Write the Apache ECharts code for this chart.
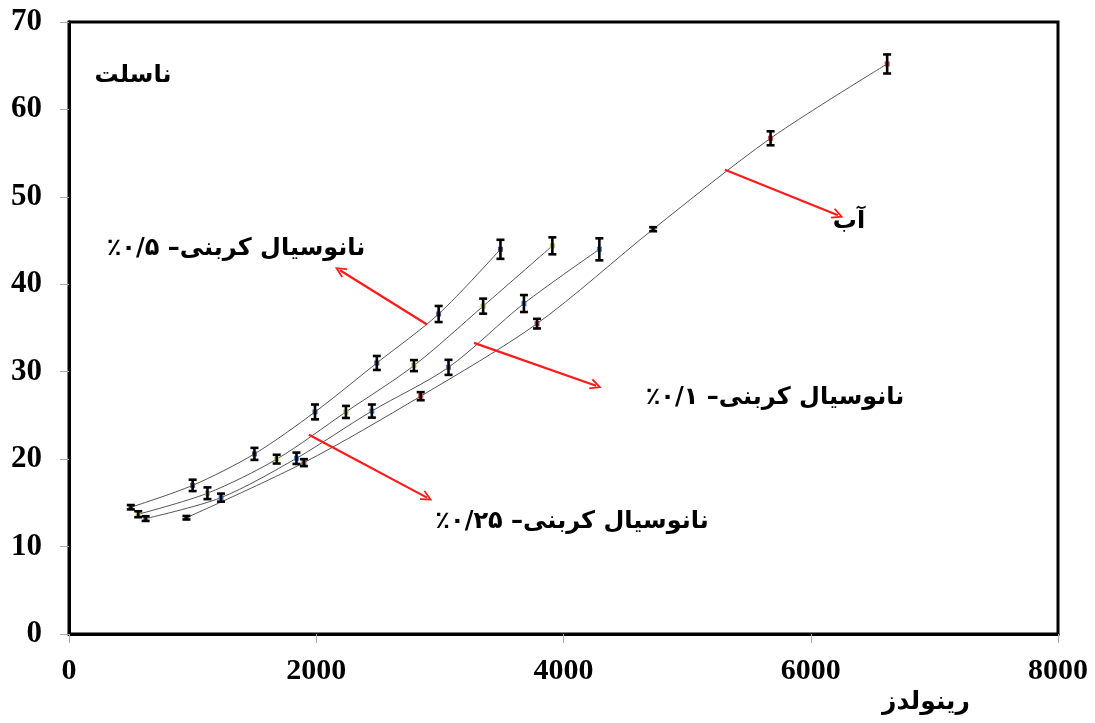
<!DOCTYPE html>
<html>
<head>
<meta charset="utf-8">
<script src="https://cdn.jsdelivr.net/npm/echarts@6/dist/echarts.min.js"></script>
<style>
html,body{margin:0;padding:0;background:#fff;}
#chart{width:1095px;height:723px;}
</style>
</head>
<body>
<div id="chart"></div>
<script>
// ---- data ----
const xTicks = [0, 2000, 4000, 6000, 8000];
const yTicks = [0, 10, 20, 30, 40, 50, 60, 70];

const re05  = [500, 1000, 1500, 1990, 2490, 2990, 3490];
const nu05  = [14.5, 17.0, 20.6, 25.4, 31.0, 36.6, 44.0];
const er05  = [0.25, 0.65, 0.69, 0.85, 0.8, 0.92, 1.09];

const re025 = [560, 1120, 1680, 2240, 2790, 3350, 3910];
const nu025 = [13.7, 16.1, 20.0, 25.4, 30.7, 37.5, 44.4];
const er025 = [0.34, 0.67, 0.5, 0.69, 0.63, 0.86, 0.97];

const re01  = [620, 1230, 1840, 2450, 3070, 3680, 4290];
const nu01  = [13.2, 15.6, 20.1, 25.5, 30.5, 37.8, 44.0];
const er01  = [0.27, 0.46, 0.65, 0.75, 0.86, 0.97, 1.26];

const reW   = [950, 1900, 2845, 3786, 4725, 5675, 6618];
const nuW   = [13.3, 19.6, 27.2, 35.5, 46.3, 56.7, 65.2];
const erW   = [0.2, 0.4, 0.46, 0.55, 0.23, 0.8, 1.09];

const seriesNames = ['نانوسیال کربنی– ۰/۵٪', 'نانوسیال کربنی– ۰/۲۵٪', 'نانوسیال کربنی– ۰/۱٪', 'آب'];
const yTitle = 'ناسلت';
const xTitle = 'رینولدز';

// annotation anchors (data coordinates)
const labelAnchors = [
  {text: yTitle, at: [518, 63.8]},
  {text: seriesNames[0], at: [1351, 44.1]},
  {text: seriesNames[2], at: [5711, 27.0]},
  {text: seriesNames[1], at: [4069, 12.8]},
  {text: seriesNames[3], at: [6309, 47.1]}
];
const arrows = [
  [[2896, 35.4], [2192, 41.6]],
  [[3276, 33.3], [4263, 28.4]],
  [[1941, 22.8], [2896, 15.6]],
  [[5306, 53.1], [6220, 47.9]]
];

// ---- build ----
const groups = [
  {re: re05, nu: nu05, er: er05, color: '#4d5a8c'},
  {re: re025, nu: nu025, er: er025, color: '#b5bb5e'},
  {re: re01, nu: nu01, er: er01, color: '#4f81bd'},
  {re: reW, nu: nuW, er: erW, color: '#c0504d'}
];
const rtl = s => '\u202B' + s + '\u202C';

function errRender(params, api) {
  const x = api.value(0), y = api.value(1), e = api.value(2);
  const lo = api.coord([x, y - e]);
  const hi = api.coord([x, y + e]);
  const hw = 4;
  const st = {stroke: '#000', lineWidth: 2.6};
  return {
    type: 'group',
    children: [
      {type: 'line', shape: {x1: lo[0], y1: lo[1], x2: hi[0], y2: hi[1]}, style: st},
      {type: 'line', shape: {x1: lo[0] - hw, y1: lo[1], x2: lo[0] + hw, y2: lo[1]}, style: st},
      {type: 'line', shape: {x1: hi[0] - hw, y1: hi[1], x2: hi[0] + hw, y2: hi[1]}, style: st}
    ]
  };
}

const series = [];
groups.forEach((g, i) => {
  series.push({
    type: 'custom',
    name: seriesNames[i] + ' err',
    renderItem: errRender,
    data: g.re.map((x, k) => [x, g.nu[k], g.er[k]]),
    z: 3,
    silent: true
  });
  series.push({
    type: 'line',
    name: seriesNames[i],
    data: g.re.map((x, k) => [x, g.nu[k]]),
    smooth: 0.3,
    showSymbol: true,
    symbol: 'rect',
    symbolSize: 5,
    lineStyle: {color: '#555', width: 1},
    itemStyle: {color: g.color, borderWidth: 0},
    z: 2,
    animation: false
  });
});

series.push({
  type: 'scatter',
  name: 'annotations',
  data: [],
  z: 5,
  markLine: {
    silent: true,
    animation: false,
    symbol: ['none', 'path://M5,0 L10,9 L8.6,9.8 L5,3.2 L1.4,9.8 L0,9 Z'],
    symbolSize: [11, 12],
    label: {show: false},
    lineStyle: {color: '#ff1a1a', width: 2.2, type: 'solid'},
    itemStyle: {color: '#ff1a1a'},
    data: arrows.map(a => [{coord: a[0]}, {coord: a[1]}])
  },
  markPoint: {
    silent: true,
    animation: false,
    symbol: 'circle',
    symbolSize: 0,
    itemStyle: {color: 'transparent'},
    label: {
      show: true,
      position: 'inside',
      color: '#000',
      fontFamily: 'DejaVu Sans',
      fontWeight: 'bold',
      fontSize: 24,
      formatter: p => rtl(p.name)
    },
    data: labelAnchors.map(l => ({name: l.text, coord: l.at}))
  }
});

const chart = echarts.init(document.getElementById('chart'), null, {renderer: 'canvas'});
chart.setOption({
  animation: false,
  backgroundColor: '#fff',
  grid: {left: 69, right: 37, top: 22, bottom: 89, containLabel: false, outerBoundsMode: 'none', show: true, borderColor: '#000', borderWidth: 3, backgroundColor: 'transparent'},
  xAxis: {
    type: 'value',
    min: xTicks[0], max: xTicks[xTicks.length - 1], interval: xTicks[1] - xTicks[0],
    splitLine: {show: false},
    axisLine: {show: true, onZero: false, lineStyle: {color: '#000', width: 3}},
    axisTick: {show: true, length: 9, lineStyle: {color: '#aaa', width: 1}},
    axisLabel: {margin: 22, color: '#000', fontFamily: 'Liberation Serif', fontWeight: 'bold', fontSize: 30, formatter: v => String(v)}
  },
  yAxis: {
    type: 'value',
    min: yTicks[0], max: yTicks[yTicks.length - 1], interval: yTicks[1] - yTicks[0],
    splitLine: {show: false},
    axisLine: {show: true, onZero: false, lineStyle: {color: '#000', width: 3}},
    axisTick: {show: true, length: 9, lineStyle: {color: '#aaa', width: 1}},
    axisLabel: {margin: 27, align: 'right', color: '#000', fontFamily: 'Liberation Serif', fontWeight: 'bold', fontSize: 31, formatter: v => String(v)}
  },
  graphic: [{
    type: 'text',
    left: 882, top: 690,
    style: {text: rtl(xTitle), fill: '#000', font: 'bold 25px "DejaVu Sans"'}
  }],
  series: series
});
</script>
</body>
</html>
